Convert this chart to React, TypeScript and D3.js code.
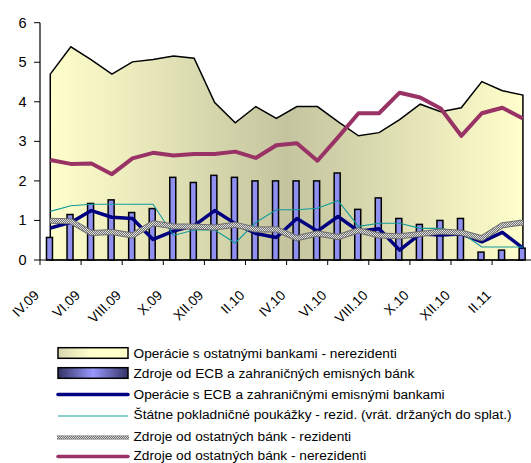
import React from "react";
import * as d3 from "d3";

const categories = ["IV.09","V.09","VI.09","VII.09","VIII.09","IX.09","X.09","XI.09","XII.09","I.10","II.10","III.10","IV.10","V.10","VI.10","VII.10","VIII.10","IX.10","X.10","XI.10","XII.10","I.11","II.11","III.11"];
const tickLabels = ["IV.09","VI.09","VIII.09","X.09","XII.09","II.10","IV.10","VI.10","VIII.10","X.10","XII.10","II.11"];
const yTicks = [0, 1, 2, 3, 4, 5, 6];

const otherBanksOpsNonres = [4.70,5.39,5.06,4.70,5.01,5.07,5.16,5.10,3.98,3.47,3.88,3.58,3.88,3.88,3.50,3.14,3.22,3.55,3.94,3.75,3.85,4.51,4.28,4.17];
const ecbSources = [0.57,1.15,1.43,1.52,1.20,1.30,2.09,1.96,2.14,2.09,2.00,2.00,2.00,2.00,2.20,1.28,1.57,1.05,0.90,1.00,1.05,0.20,0.25,0.30];
const ecbOps = [0.81,0.95,1.25,1.08,1.05,0.52,0.73,0.87,1.25,0.92,0.67,0.57,1.05,0.73,1.10,0.73,0.79,0.25,0.66,0.63,0.66,0.46,0.70,0.30];
const tBills = [1.23,1.37,1.41,1.41,1.41,1.41,0.62,0.76,0.76,0.43,0.95,1.27,1.27,1.31,1.50,0.85,0.93,0.93,0.80,0.80,0.69,0.33,0.33,0.33];
const otherBanksRes = [0.99,0.98,0.68,0.71,0.62,0.93,0.85,0.85,0.82,0.89,0.77,0.78,0.55,0.67,0.58,0.75,0.62,0.60,0.66,0.72,0.69,0.55,0.88,0.95];
const otherBanksNonres = [2.53,2.43,2.44,2.17,2.57,2.71,2.64,2.68,2.68,2.74,2.58,2.90,2.95,2.51,3.10,3.71,3.71,4.23,4.11,3.83,3.14,3.71,3.85,3.58];

const legendLabels = [
  "Operácie s ostatnými bankami - nerezidenti",
  "Zdroje od ECB a zahraničných emisných bánk",
  "Operácie s ECB a zahraničnými emisnými bankami",
  "Štátne pokladničné poukážky - rezid. (vrát. držaných do splat.)",
  "Zdroje od ostatných bánk - rezidenti",
  "Zdroje od ostatných bánk - nerezidenti",
];

const W = 531, H = 463;
const left = 40, top = 22.7, bottom = 260, step = 20.55;

export default function App() {
  const x = d3.scaleBand<string>().domain(categories).range([left, left + step * categories.length]).padding(0);
  const bw = x.bandwidth();
  const cx = (i: number) => (x(categories[i]) as number) + bw / 2;
  const y = d3.scaleLinear().domain([0, 6]).range([bottom, top]);

  const area = d3.area<number>().x((_, i) => cx(i)).y0(y(0)).y1((d) => y(d));
  const line = d3.line<number>().x((_, i) => cx(i)).y((d) => y(d));

  const font = "'Liberation Sans', Arial, sans-serif";
  const legendYs = [353, 373, 394.5, 414.5, 436, 455];

  return (
    <svg width={W} height={H} style={{ position: "absolute", left: 0, top: 0, background: "#fff" }} fontFamily={font}>
      <defs>
        <linearGradient id="areaGrad" gradientUnits="userSpaceOnUse" x1={cx(0)} x2={cx(23)} y1={0} y2={0}>
          <stop offset="0" stopColor="#FFFFCC" />
          <stop offset="0.5" stopColor="#C4C49F" />
          <stop offset="1" stopColor="#FFFFCC" />
        </linearGradient>
        <linearGradient id="legArea" x1="0" x2="1" y1="0" y2="0">
          <stop offset="0" stopColor="#D6D6AE" />
          <stop offset="0.45" stopColor="#FFFFCC" />
          <stop offset="1" stopColor="#FFFFCC" />
        </linearGradient>
        <linearGradient id="legBar" x1="0" x2="1" y1="0" y2="0">
          <stop offset="0" stopColor="#333366" />
          <stop offset="0.5" stopColor="#9999FF" />
          <stop offset="1" stopColor="#333366" />
        </linearGradient>
        <pattern id="chk" width="2" height="2" patternUnits="userSpaceOnUse">
          <rect width="2" height="2" fill="#707070" />
          <rect width="1" height="1" fill="#e0e0e0" />
          <rect x="1" y="1" width="1" height="1" fill="#e0e0e0" />
        </pattern>
      </defs>

      {/* area */}
      <path d={area(otherBanksOpsNonres) + "Z"} fill="url(#areaGrad)" stroke="#000" strokeWidth={1.5} strokeLinejoin="miter" />

      {/* bars */}
      {ecbSources.map((v, i) => (
        <rect key={i} x={cx(i) - 0.8 - 3} y={y(v)} width={6} height={y(0) - y(v)} fill="#9090F0" stroke="#000" strokeWidth={1.5} />
      ))}

      {/* lines */}
      <path d={line(ecbOps) || ""} fill="none" stroke="#000080" strokeWidth={3.5} strokeLinejoin="round" />
      <path d={line(tBills) || ""} fill="none" stroke="#109a9a" strokeWidth={1.1} />
      <path d={line(otherBanksRes) || ""} fill="none" stroke="#6e6e6e" strokeWidth={6} strokeLinejoin="round" />
      <path d={line(otherBanksRes) || ""} fill="none" stroke="url(#chk)" strokeWidth={4} strokeLinejoin="round" />
      <path d={line(otherBanksNonres) || ""} fill="none" stroke="#993366" strokeWidth={4} strokeLinejoin="round" />

      {/* y axis */}
      <line x1={left} x2={left} y1={top} y2={bottom} stroke="#000" strokeWidth={1.2} />
      {yTicks.map((t) => (
        <g key={t}>
          <line x1={left - 6} x2={left} y1={y(t)} y2={y(t)} stroke="#000" strokeWidth={1} />
          <text x={26.5} y={y(t)} textAnchor="end" dominantBaseline="central" fontSize={14.5} fill="#000">{t}</text>
        </g>
      ))}

      {/* x axis */}
      <line x1={left} x2={W} y1={bottom} y2={bottom} stroke="#000" strokeWidth={1.2} />
      {d3.range(0, categories.length + 1, 2).map((k) => (
        <line key={k} x1={left + k * bw} x2={left + k * bw} y1={bottom} y2={bottom + 5} stroke="#000" strokeWidth={1} />
      ))}
      {tickLabels.map((lab) => {
        const i = categories.indexOf(lab);
        return (
          <text key={lab} transform={`translate(${cx(i) - 10.5},296) rotate(-45)`} textAnchor="end" fontSize={13.7} fill="#000">{lab}</text>
        );
      })}

      {/* legend */}
      <rect x={58} y={legendYs[0] - 5.3} width={70} height={10.6} fill="url(#legArea)" stroke="#000" strokeWidth={1.5} />
      <rect x={58} y={legendYs[1] - 5.3} width={70} height={10.6} fill="url(#legBar)" stroke="#000" strokeWidth={1.5} />
      <line x1={58} x2={128} y1={legendYs[2]} y2={legendYs[2]} stroke="#000080" strokeWidth={3.5} strokeLinecap="round" />
      <line x1={58} x2={128} y1={legendYs[3] + 1.5} y2={legendYs[3] + 1.5} stroke="#5fbfbf" strokeWidth={1.5} />
      <line x1={57} x2={129} y1={legendYs[4] + 1.5} y2={legendYs[4] + 1.5} stroke="#6e6e6e" strokeWidth={4} />
      <line x1={57} x2={129} y1={legendYs[4] + 1.5} y2={legendYs[4] + 1.5} stroke="url(#chk)" strokeWidth={2.5} />
      <line x1={58} x2={128} y1={legendYs[5] + 1.5} y2={legendYs[5] + 1.5} stroke="#993366" strokeWidth={3.5} strokeLinecap="round" />
      {legendLabels.map((lab, i) => (
        <text key={lab} x={133.5} y={legendYs[i]} dominantBaseline="central" fontSize={13.7} fill="#000">{lab}</text>
      ))}
    </svg>
  );
}
